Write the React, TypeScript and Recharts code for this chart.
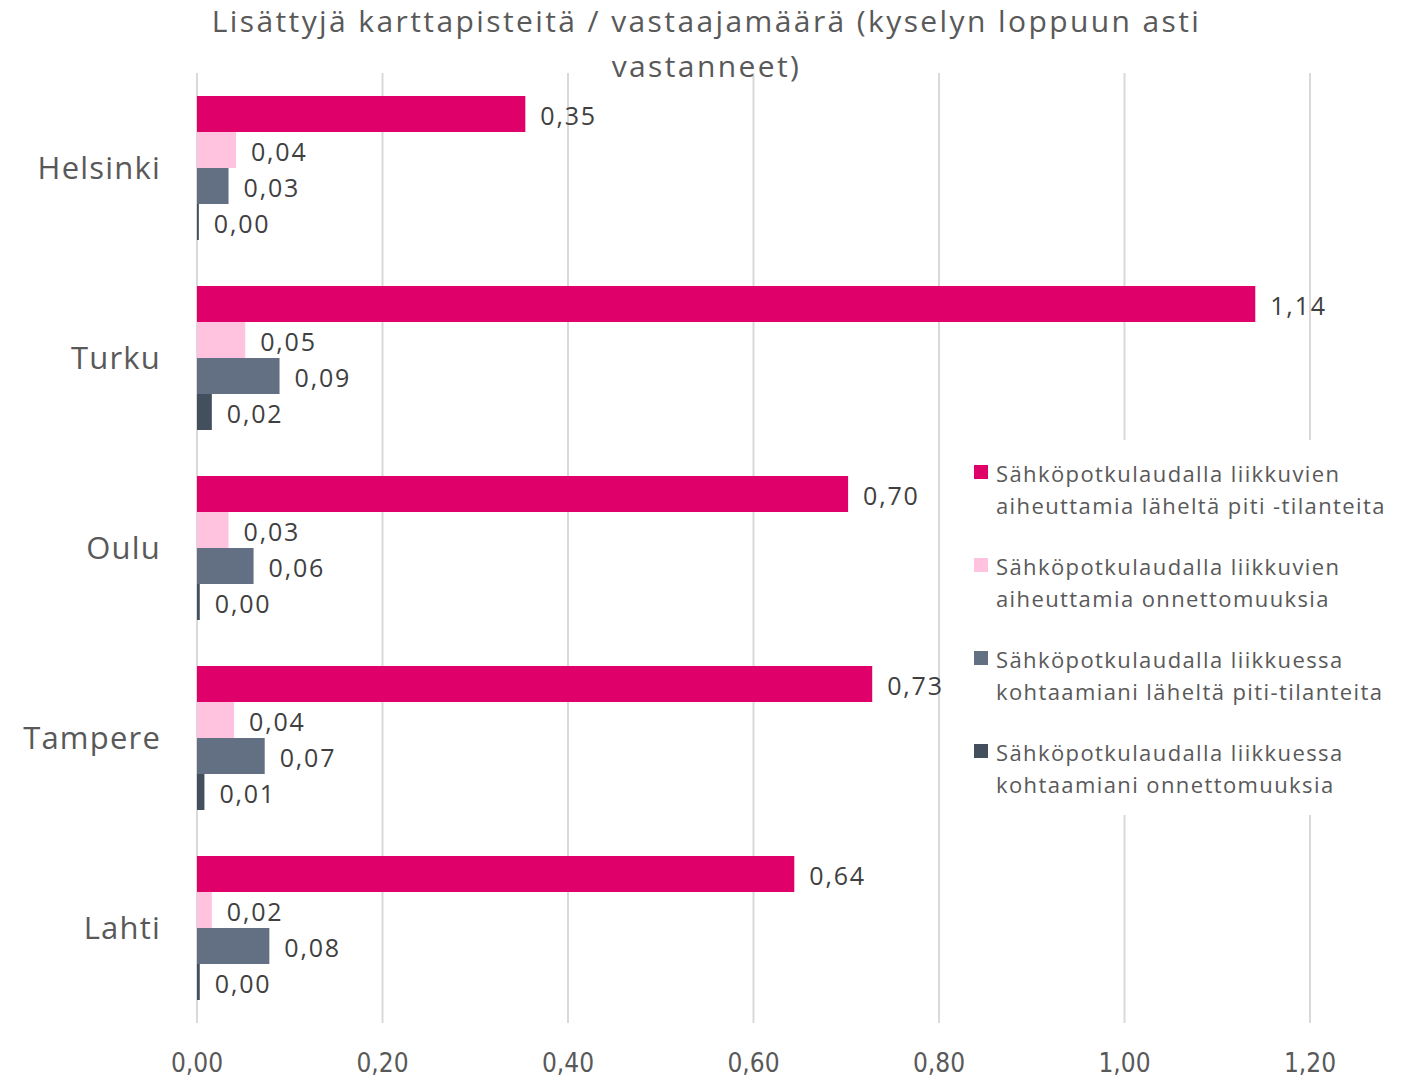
import React from 'react';
import { BarChart, Bar, XAxis, YAxis, CartesianGrid, LabelList, Legend } from 'recharts';

const categories = ['Helsinki', 'Turku', 'Oulu', 'Tampere', 'Lahti'];
const nearMissCausedBy = [0.354, 1.141, 0.702, 0.728, 0.644];
const accidentsCausedBy = [0.042, 0.052, 0.034, 0.04, 0.016];
const nearMissEncountered = [0.034, 0.089, 0.061, 0.073, 0.078];
const accidentsEncountered = [0.002, 0.016, 0.003, 0.008, 0.003];
const xTicks = [0, 0.2, 0.4, 0.6, 0.8, 1.0, 1.2];

const seriesNames = [
  ['Sähköpotkulaudalla liikkuvien', 'aiheuttamia läheltä piti -tilanteita'],
  ['Sähköpotkulaudalla liikkuvien', 'aiheuttamia onnettomuuksia'],
  ['Sähköpotkulaudalla liikkuessa', 'kohtaamiani läheltä piti-tilanteita'],
  ['Sähköpotkulaudalla liikkuessa', 'kohtaamiani onnettomuuksia'],
];
const seriesKeys = ['s1', 's2', 's3', 's4'];
const seriesColors = ['#E0006A', '#FFC3DF', '#637083', '#444F5E'];

const data = categories.map((name, i) => ({
  name,
  s1: nearMissCausedBy[i],
  s2: accidentsCausedBy[i],
  s3: nearMissEncountered[i],
  s4: accidentsEncountered[i],
}));

const FONT = '"Open Sans", "Noto Sans", sans-serif';
const fmt = (v: any) => Number(v).toFixed(2).replace('.', ',');

const LegendContent = () => (
  <div
    style={{
      background: '#ffffff',
      width: 445,
      height: 375,
      paddingTop: 17,
      paddingLeft: 12,
      boxSizing: 'border-box',
      fontFamily: FONT,
      fontSize: 22,
      letterSpacing: 1.4,
      color: '#595959',
      lineHeight: '32px',
      textAlign: 'left',
    }}
  >
    {seriesNames.map((lines, i) => (
      <div key={i} style={{ display: 'flex', marginBottom: 29 }}>
        <div
          style={{
            width: 14,
            height: 14,
            background: seriesColors[i],
            marginTop: 8,
            marginRight: 8,
            flex: '0 0 auto',
          }}
        />
        <div>
          <div style={{ whiteSpace: 'nowrap' }}>{lines[0]}</div>
          <div style={{ whiteSpace: 'nowrap' }}>{lines[1]}</div>
        </div>
      </div>
    ))}
  </div>
);

export default function App() {
  return (
    <div style={{ position: 'absolute', left: 0, top: 0, width: 1413, height: 1080, background: '#fff' }}>
      <div
        style={{
          position: 'absolute',
          left: 0,
          top: -2,
          width: 1413,
          textAlign: 'center',
          fontFamily: FONT,
          fontSize: 30,
          letterSpacing: 2.4,
          color: '#595959',
          lineHeight: '45px',
          zIndex: 2,
        }}
      >
        <div>Lisättyjä karttapisteitä / vastaajamäärä (kyselyn loppuun asti</div>
        <div>vastanneet)</div>
      </div>
      <BarChart
        width={1413}
        height={1080}
        data={data}
        layout="vertical"
        margin={{ top: 73, right: 103, left: 0, bottom: 0 }}
        barCategoryGap={23}
        barGap={0}
      >
        <CartesianGrid horizontal={false} vertical={true} stroke="#D9D9D9" strokeWidth={2} />
        <XAxis
          type="number"
          domain={[0, 1.2]}
          ticks={xTicks}
          tickFormatter={fmt}
          axisLine={false}
          tickLine={false}
          height={57}
          tickMargin={25}
          tick={{ fontFamily: '"DejaVu Sans Condensed", "DejaVu Sans", sans-serif', fontSize: 26, fill: '#595959' }}
          interval={0}
        />
        <YAxis
          type="category"
          dataKey="name"
          width={197}
          axisLine={false}
          tickLine={false}
          tickMargin={30}
          tick={{ fontFamily: FONT, fontSize: 31, fill: '#595959', letterSpacing: 1.2 }}
        />
        <Legend
          layout="vertical"
          align="center"
          verticalAlign="middle"
          content={<LegendContent />}
          wrapperStyle={{ position: 'absolute', left: 962, top: 440, width: 445, height: 375 }}
        />
        {seriesKeys.map((k, i) => (
          <Bar key={k} dataKey={k} name={seriesNames[i].join(' ')} fill={seriesColors[i]} barSize={36} isAnimationActive={false}>
            <LabelList
              dataKey={k}
              position="right"
              offset={15}
              dy={2}
              formatter={fmt}
              style={{ fontFamily: FONT, fontSize: 25, fill: '#404040', letterSpacing: 1.8 }}
            />
          </Bar>
        ))}
      </BarChart>
    </div>
  );
}
